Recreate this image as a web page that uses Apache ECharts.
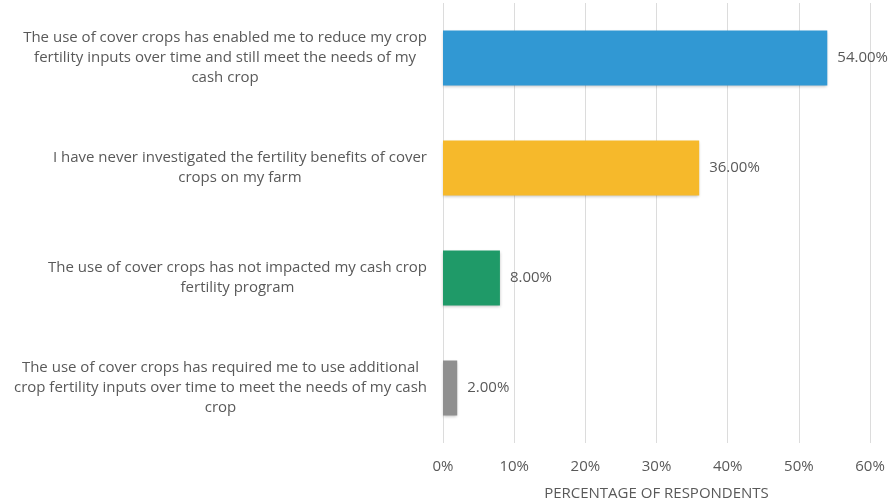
<!DOCTYPE html>
<html>
<head>
<meta charset="utf-8">
<script src="https://cdn.jsdelivr.net/npm/echarts@6/dist/echarts.min.js"></script>
<style>
  html, body { margin: 0; padding: 0; background: #fff; }
  #chart { width: 891px; height: 500px; }
</style>
</head>
<body>
<div id="chart"></div>
<script>
// 类别（每个元素为多行标签）
const categories = [
  ['The use of cover crops has enabled me to reduce my crop', 'fertility inputs over time and still meet the needs of my', 'cash crop'],
  ['I have never investigated the fertility benefits of cover', 'crops on my farm'],
  ['The use of cover crops has not impacted my cash crop', 'fertility program'],
  ['The use of cover crops has required me to use additional', 'crop fertility inputs over time to meet the needs of my cash', 'crop']
];
const values = [54, 36, 8, 2];
const barColors = ['#3198d3', '#f6b92b', '#1f9a68', '#8f8f8f'];
const xTicks = [0, 10, 20, 30, 40, 50, 60];

const chart = echarts.init(document.getElementById('chart'));
const textColor = '#595959';
const font = '"Open Sans", sans-serif';

const option = {
  animation: false,
  textStyle: { fontFamily: font },
  grid: { left: 443, right: 21, top: 3, bottom: 57, outerBoundsMode: 'none' },
  xAxis: {
    type: 'value',
    min: xTicks[0],
    max: xTicks[xTicks.length - 1],
    interval: 10,
    axisLine: { show: false },
    axisTick: { show: false },
    axisLabel: { formatter: '{value}%', color: textColor, fontSize: 15, margin: 16, fontFamily: font },
    splitLine: { lineStyle: { color: '#dcdcdc', width: 1 } },
    name: 'PERCENTAGE OF RESPONDENTS',
    nameLocation: 'middle',
    nameGap: 43,
    nameTextStyle: { color: textColor, fontSize: 15, fontFamily: font }
  },
  yAxis: {
    type: 'category',
    inverse: true,
    data: categories.map(l => l.join('\n')),
    axisLine: { show: false },
    axisTick: { show: false },
    axisLabel: {
      margin: 16,
      align: 'right',
      lineHeight: 20,
      fontFamily: font,
      formatter: v => v.split('\n').map(s => '{c|' + s + '}').join('\n'),
      rich: { c: { align: 'center', color: textColor, fontSize: 15, lineHeight: 20, fontFamily: font } }
    }
  },
  series: [{
    type: 'bar',
    barWidth: '50%',
    data: values.map((v, i) => ({
      value: v,
      itemStyle: { color: barColors[i], shadowColor: 'rgba(0,0,0,0.25)', shadowBlur: 3, shadowOffsetY: 1 }
    })),
    label: {
      show: true,
      position: 'right',
      distance: 10,
      color: textColor,
      fontSize: 15,
      fontFamily: font,
      formatter: p => p.value.toFixed(2) + '%'
    }
  }]
};

chart.setOption(option);
</script>
</body>
</html>
